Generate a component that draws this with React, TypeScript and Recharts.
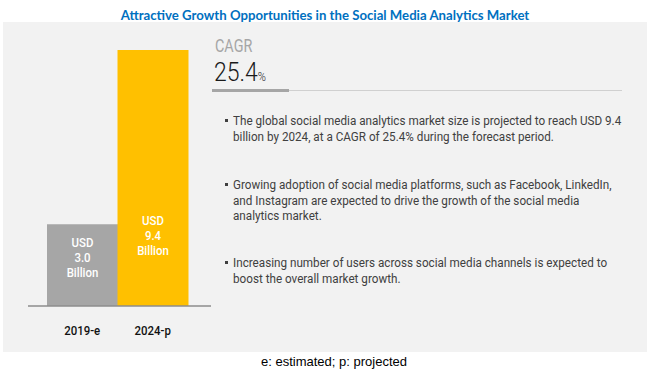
import React from 'react';
import { BarChart, Bar, XAxis, YAxis, Cell, LabelList } from 'recharts';

const years = ['2019-e', '2024-p'];
const marketSize = [3.0, 9.4];
const barColors = ['#A6A6A6', '#FFC000'];
const cagr = '25.4';

const bullets = [
  [
    'The global social media analytics market size is projected to reach USD 9.4',
    'billion by 2024, at a CAGR of 25.4% during the forecast period.',
  ],
  [
    'Growing adoption of social media platforms, such as Facebook, LinkedIn,',
    'and Instagram are expected to drive the growth of the social media',
    'analytics market.',
  ],
  [
    'Increasing number of users across social media channels is expected to',
    'boost the overall market growth.',
  ],
];

const data = years.map((year, i) => ({ year, value: marketSize[i] }));

const narrow = 'Roboto, "Liberation Sans", sans-serif';

function ValueLabel(props: any) {
  const { x, y, width, height, value } = props;
  const bottom = y + height;
  const top = Math.max(y + height / 2 - 22, bottom - 85);
  const cx = x + width / 2;
  return (
    <text
      x={cx}
      y={top}
      fill="#ffffff"
      fontSize={13}
      fontWeight={500}
      fontFamily={narrow}
      textAnchor="middle"
      dominantBaseline="central"
      transform={`translate(${cx} 0) scale(0.88 1) translate(${-cx} 0)`}
    >
      <tspan x={cx} dy={0}>USD</tspan>
      <tspan x={cx} dy={15}>{Number(value).toFixed(1)}</tspan>
      <tspan x={cx} dy={15}>Billion</tspan>
    </text>
  );
}

function YearTick(props: any) {
  const { x, y, payload } = props;
  return (
    <text
      x={x}
      y={y + 17}
      fill="#111"
      fontSize={13}
      fontWeight={500}
      fontFamily={narrow}
      textAnchor="middle"
      dominantBaseline="central"
      transform={`translate(${x} 0) scale(0.88 1) translate(${-x} 0)`}
    >
      {payload.value}
    </text>
  );
}

export default function App() {
  const lineTops = [113, 177, 255];
  return (
    <div style={{ position: 'absolute', left: 0, top: 0, width: 650, height: 376, background: '#fff', overflow: 'hidden' }}>
      <div
        style={{
          position: 'absolute', left: 0, top: 7, width: 650, textAlign: 'center',
          fontFamily: 'Lato, sans-serif', fontWeight: 700, fontSize: 13.2, color: '#0070C0',
        }}
      >
        Attractive Growth Opportunities in the Social Media Analytics Market
      </div>
      <div style={{ position: 'absolute', left: 3, top: 22, width: 644, height: 330, background: '#F2F2F2' }} />
      <div style={{ position: 'absolute', left: 0, top: 0 }}>
        <BarChart
          width={220}
          height={340}
          data={data}
          margin={{ top: 50, right: 9, bottom: 4, left: 28 }}
          barCategoryGap={0}
          barGap={0}
        >
          <XAxis
            dataKey="year"
            height={30}
            padding={{ left: 19, right: 23 }}
            axisLine={{ stroke: '#8c8c8c', strokeWidth: 1.5 }}
            tickLine={false}
            tick={<YearTick />}
          />
          <YAxis hide domain={[0, 9.4]} />
          <Bar dataKey="value" isAnimationActive={false}>
            {data.map((d, i) => (
              <Cell key={d.year} fill={barColors[i]} />
            ))}
            <LabelList dataKey="value" content={<ValueLabel />} />
          </Bar>
        </BarChart>
      </div>
      <div
        style={{
          position: 'absolute', left: 215, top: 35, fontFamily: narrow, fontSize: 18, color: '#A6A6A6',
          transform: 'scaleX(0.8)', transformOrigin: 'left top',
        }}
      >
        CAGR
      </div>
      <div
        style={{
          position: 'absolute', left: 214, top: 58, fontFamily: narrow, fontWeight: 300, fontSize: 25, color: '#1a1a1a',
          transform: 'scaleX(0.92)', transformOrigin: 'left top',
        }}
      >
        {cagr}
        <span style={{ fontSize: 12 }}>%</span>
      </div>
      <div style={{ position: 'absolute', left: 212, top: 90, width: 410, height: 1, background: '#D0D0D0' }} />
      <div style={{ position: 'absolute', left: 212, top: 89, width: 77, height: 3, background: '#A6A6A6' }} />
      {bullets.map((lines, i) => (
        <div
          key={i}
          style={{
            position: 'absolute', left: 225, top: lineTops[i], width: 420,
          }}
        >
          <div style={{ position: 'absolute', left: 0, top: 6, width: 3, height: 3, background: '#404040' }} />
          <div
            style={{
              position: 'absolute', left: 8, top: 0, fontFamily: narrow,
              fontSize: 12.5, lineHeight: '15.5px', color: '#404040', whiteSpace: 'nowrap',
              transform: 'scaleX(0.935)', transformOrigin: 'left top',
            }}
          >
            {lines.map((l, j) => (
              <div key={j}>{l}</div>
            ))}
          </div>
        </div>
      ))}
      <div
        style={{
          position: 'absolute', left: 9, top: 354, width: 650, textAlign: 'center',
          fontFamily: '"Liberation Sans", Arial, sans-serif', fontSize: 13, color: '#000',
        }}
      >
        e: estimated; p: projected
      </div>
    </div>
  );
}
